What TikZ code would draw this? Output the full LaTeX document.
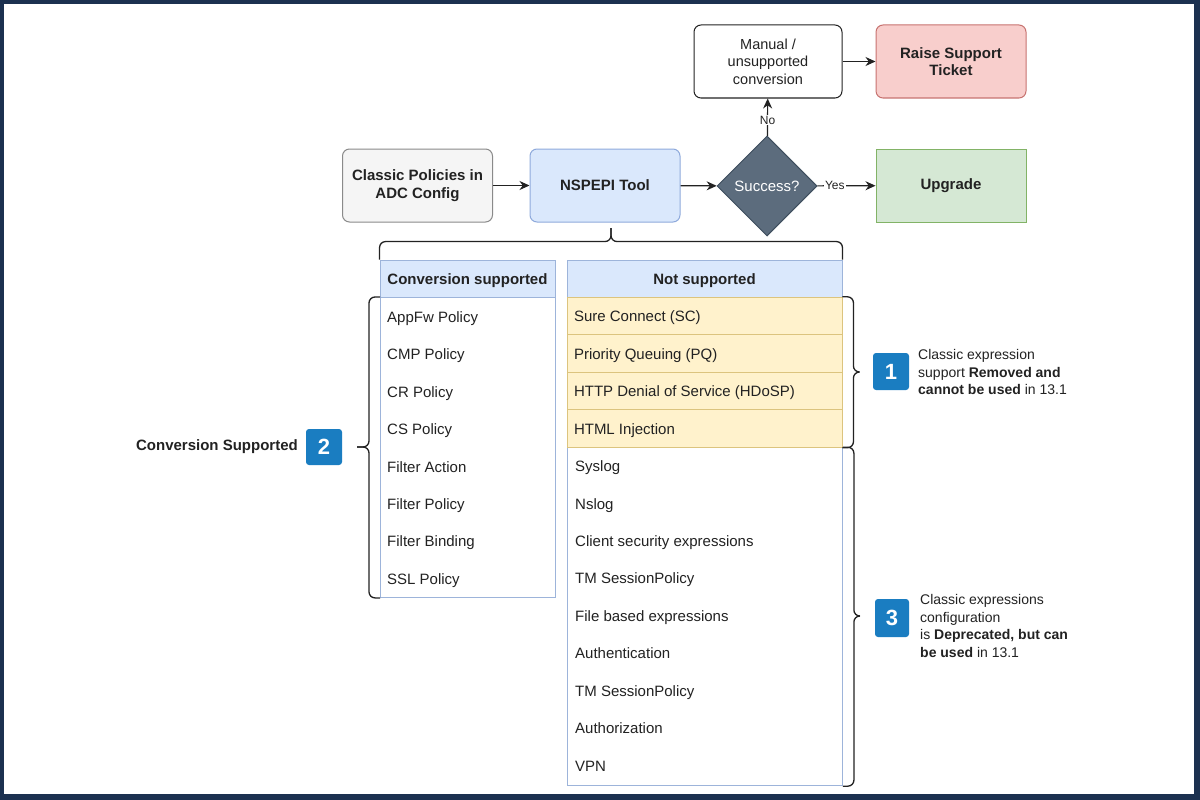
\documentclass[tikz,border=0pt]{standalone}
\usepackage{fontspec}
\setmainfont{Liberation Sans}
\usetikzlibrary{shapes.geometric,arrows.meta}
\definecolor{frame}{HTML}{1C3150}
\definecolor{txt}{HTML}{222222}
\definecolor{clsF}{HTML}{F5F5F5}
\definecolor{clsD}{HTML}{8A8A8A}
\definecolor{bluF}{HTML}{DAE8FC}
\definecolor{bluD}{HTML}{8FAADC}
\definecolor{grnF}{HTML}{D5E8D4}
\definecolor{grnD}{HTML}{82B366}
\definecolor{redF}{HTML}{F8CECC}
\definecolor{redD}{HTML}{C77370}
\definecolor{decF}{HTML}{5C6C7D}
\definecolor{decD}{HTML}{3E4E5E}
\definecolor{tblD}{HTML}{9DB4DA}
\definecolor{ylF}{HTML}{FFF2CC}
\definecolor{ylD}{HTML}{DCC47E}
\definecolor{bdg}{HTML}{1A7DC1}
\begin{document}
\begin{tikzpicture}[x=1pt,y=-1pt,
  box/.style={rounded corners=7pt, minimum width=150pt, minimum height=73pt, align=center,
    line width=1pt, font=\bfseries\fontsize{15}{17.5}\selectfont, text=txt, inner sep=2pt},
  arr/.style={line width=1.2pt, draw=txt, -{Stealth[length=10pt,width=9pt]}},
  lbl/.style={fill=white, inner sep=1pt, text=txt, font=\fontsize{12}{14}\selectfont},
  hdr/.style={draw=tblD, fill=bluF, minimum height=37pt, inner sep=0pt, line width=0.9pt,
    text=txt, text height=12pt, text depth=1pt, font=\bfseries\fontsize{15}{18}\selectfont},
  tbody/.style={draw=tblD, fill=white, anchor=north west, inner sep=0pt, line width=0.9pt},
  item/.style={anchor=west, inner sep=0pt, text=txt, text height=12pt, text depth=1pt,
    font=\fontsize{15}{18}\selectfont},
  yrow/.style={draw=ylD, fill=ylF, minimum width=275pt, minimum height=37.5pt, text width=261pt,
    inner xsep=7pt, inner ysep=0pt, align=flush left, line width=0.9pt, text=txt,
    text height=12pt, text depth=1pt, font=\fontsize{15}{18}\selectfont},
  brc/.style={line width=1.3pt, draw=txt, rounded corners=6pt},
  badge/.style={fill=bdg, rounded corners=3pt, inner sep=0pt, text=white,
    font=\bfseries\fontsize{22}{22}\selectfont},
  note/.style={anchor=west, align=left, inner sep=0pt, text=txt, font=\fontsize{14}{17.5}\selectfont}]
\fill[frame] (0,0) rectangle (1200,800);
\fill[white] (4,4) rectangle (1194,794);
\useasboundingbox (0,0) rectangle (1200,800);

% flow
\node[box, draw=clsD, fill=clsF] (classic) at (417.5,185.5) {Classic Policies in\\ADC Config};
\node[box, draw=bluD, fill=bluF] (tool) at (605,185.5) {NSPEPI Tool};
\node[diamond, aspect=1, draw=decD, fill=decF, minimum width=100pt, minimum height=100pt,
  inner sep=0pt, line width=1pt, text=white, font=\fontsize{15}{18}\selectfont] (dec) at (767,186) {Success?};
\node[box, rounded corners=0pt, draw=grnD, fill=grnF] (upg) at (951,185.5) {Upgrade};
\node[box, draw=txt, fill=white, minimum width=148pt, font=\fontsize{14.5}{17.5}\selectfont] (man) at (768,61.5) {Manual /\\unsupported\\conversion};
\node[box, draw=redD, fill=redF] (raise) at (951,61.5) {Raise Support\\Ticket};

\draw[arr] (classic) -- (tool);
\draw[arr] (tool) -- (dec);
\draw[arr] (dec) -- node[lbl, pos=0.3] {Yes} (upg);
\draw[arr] (dec) -- node[lbl, pos=0.42] {No} (man);
\draw[arr] (man) -- (raise);

% left table
\node[hdr, minimum width=175pt] (lh) at (467.5,278.5) {Conversion supported};
\node[tbody, minimum width=175pt, minimum height=300pt] (lb) at (380,297) {};
\foreach \t [count=\i] in {AppFw Policy, CMP Policy, CR Policy, CS Policy, Filter Action, Filter Policy, Filter Binding, SSL Policy}
  \node[item] (l\i) at (387, 279.6+37.4*\i) {\t};

% right table
\node[hdr, minimum width=275pt] (rh) at (704.5,278.5) {Not supported};
\node[tbody, minimum width=275pt, minimum height=338pt] (rb) at (567,447.25) {};
\foreach \t [count=\i] in {Sure Connect (SC), Priority Queuing (PQ), HTTP Denial of Service (HDoSP), HTML Injection}
  \node[yrow] (y\i) at (704.5, 278.5+37.5*\i) {\t};
\foreach \t [count=\i] in {Syslog, Nslog, Client security expressions, TM SessionPolicy, File based expressions, Authentication, TM SessionPolicy, Authorization, VPN}
  \node[item] (r\i) at (575, 428.6+37.45*\i) {\t};

% braces
\coordinate (tt) at (611,228);
\draw[brc] (lh.north west) -- ++(0,-18) -| (tt);
\draw[brc] (rh.north east) -- ++(0,-18) -| (tt);
\coordinate (tl) at (357,447);
\draw[brc] (lb.north west) -- ++(-11,0) |- (tl);
\draw[brc] (lb.south west) -- ++(-11,0) |- (tl);
\coordinate (t1) at (857,372);
\draw[brc] (y1.north east) -- ++(11,0) |- (t1);
\draw[brc] (y4.south east) -- ++(11,0) |- (t1);
\coordinate (t3) at (857,616);
\draw[brc] (rb.north east) -- ++(11,0) |- (t3);
\draw[brc] (rb.south east) -- ++(11,0) |- (t3);

% annotations
\node[badge, minimum width=36pt, minimum height=36pt] (b2) at (324,447) {2};
\node[anchor=east, inner sep=0pt, text=txt, font=\bfseries\fontsize{15}{18}\selectfont] (c2) at (298,447) {Conversion Supported};
\node[badge, minimum width=36pt, minimum height=37pt] (b1) at (891,371.5) {1};
\node[note] (n1) at (918,372) {Classic expression\\support \textbf{Removed and}\\\textbf{cannot be used} in 13.1};
\node[badge, minimum width=34pt, minimum height=38pt] (b3) at (892,618) {3};
\node[note] (n3) at (920,626) {Classic expressions\\configuration\\is \textbf{Deprecated, but can}\\\textbf{be used} in 13.1};
\end{tikzpicture}
\end{document}
